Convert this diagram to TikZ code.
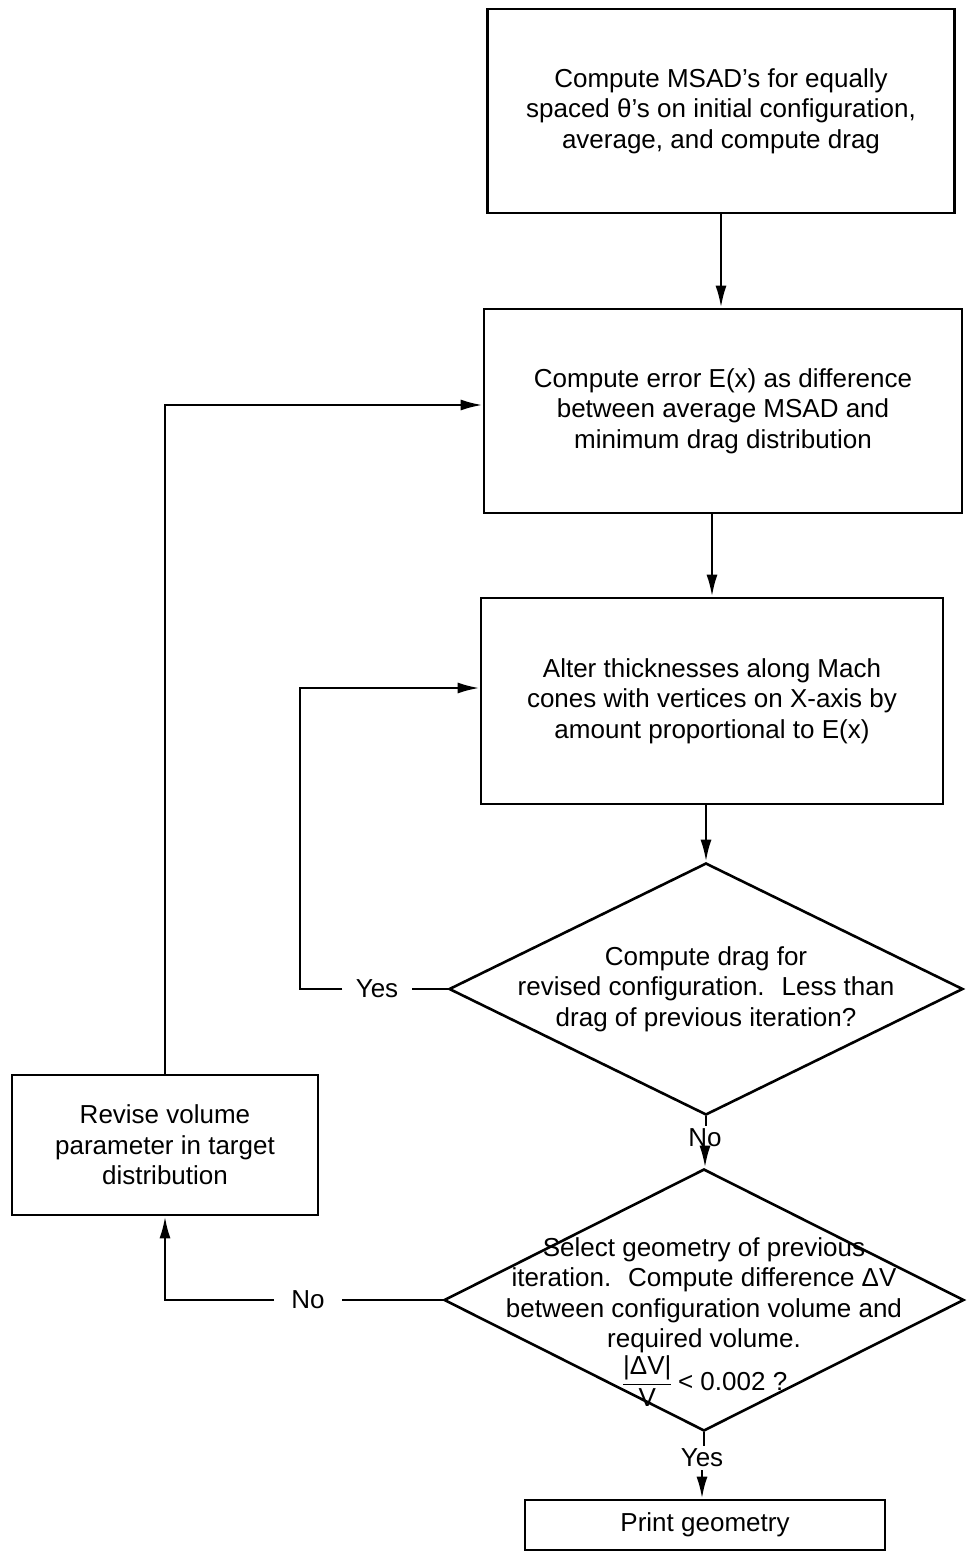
\documentclass[tikz,border=0pt]{standalone}
\usepackage{fontspec}
\setmainfont{Liberation Sans}
\usepackage{amsmath}
\usetikzlibrary{shapes.geometric,arrows.meta}

\begin{document}
\begin{tikzpicture}[x=0.5pt,y=-0.5pt,
	font=\fontsize{13}{15.3}\selectfont,
	line width=1.3pt,
	process/.style={draw,rectangle,align=center,inner sep=0pt},
	decision/.style={draw,diamond,inner sep=0pt},
	decisiontext/.style={align=center,inner sep=0pt},
	answer/.style={inner sep=1pt},
	flow/.style={-{Latex[length=11pt,width=5.5pt]}}]
	%\draw[help lines] (0,0) grid (969,1552);
	\useasboundingbox (0,0) rectangle (969,1552);
	
	% main column
	\node[process,minimum width=233.5pt,minimum height=102pt] (msad) at (721,111)
		{Compute MSAD's for equally\\spaced θ's on initial configuration,\\average, and compute drag};
	\node[process,minimum width=239pt,minimum height=102pt] (error) at (723,411)
		{Compute error E(x) as difference\\between average MSAD and\\minimum drag distribution};
	\node[process,minimum width=231pt,minimum height=103pt] (alter) at (712,701)
		{Alter thicknesses along Mach\\cones with vertices on X-axis by\\amount proportional to E(x)};
	
	\node[decision,minimum width=257pt,minimum height=126pt,
		label={[decisiontext]center:{Compute drag for\\revised configuration.~ Less than\\drag of previous iteration?}}]
		(lessdrag) at (706,989) {};
	\node[decision,minimum width=260pt,minimum height=131pt,
		label={[decisiontext,yshift=-11pt]center:{Select geometry of previous\\iteration.~ Compute difference ΔV\\between configuration volume and\\required volume.\\$\dfrac{\text{|ΔV|}}{\text{V}}$\,< 0.002 ?}}]
		(volcheck) at (704,1300) {};
	
	\node[process,minimum width=180pt,minimum height=25pt] (print) at (705,1525) {Print geometry};
	
	% side box
	\node[process,minimum width=153pt,minimum height=70pt] (revise) at (165,1145)
		{Revise volume\\parameter in target\\distribution};
	
	% answers
	\node[answer] (no1) at (705,1138) {No};
	\node[answer] (yes2) at (702,1458) {Yes};
	\node[answer,inner xsep=6pt] (yes1) at (377,989) {Yes};
	\node[answer,inner xsep=8pt] (no2) at (308,1300) {No};
	
	\coordinate (yesturn) at (300,688);
	\coordinate (reviseturn) at (165,405);
	
	\draw[flow] (msad.south) -- (msad.south |- error.north);
	\draw[flow] (alter.north |- error.south) -- (alter.north);
	\draw[flow] (lessdrag.north |- alter.south) -- (lessdrag.north);
	\draw (lessdrag.south) -- (lessdrag.south |- no1.north);
	\draw[flow] (no1.south) -- (no1.south |- volcheck.north);
	\draw (volcheck.south) -- (volcheck.south |- yes2.north);
	\draw[flow] (yes2.south) -- (yes2.south |- print.north);
	
	\draw (lessdrag.west) -- (yes1.east);
	\draw[flow] (yes1.west) -| (yesturn) -- (yesturn -| alter.west);
	\draw (volcheck.west) -- (no2.east);
	\draw[flow] (no2.west) -| (revise.south);
	\draw[flow] (revise.north) -- (reviseturn) -- (reviseturn -| error.west);
\end{tikzpicture}
\end{document}
